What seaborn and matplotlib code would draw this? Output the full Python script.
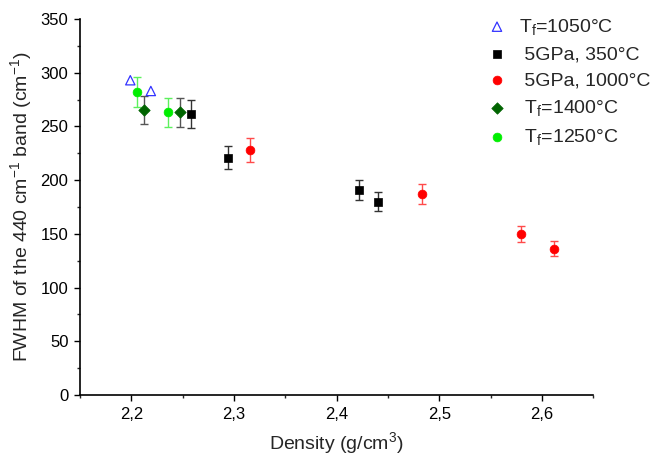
import matplotlib
matplotlib.use("Agg")
import matplotlib.pyplot as plt
import seaborn as sns
import numpy as np
import pandas as pd
from matplotlib.ticker import MultipleLocator, FixedLocator

# ---- data ----
tf1050_x = [2.199, 2.219]
tf1050_y = [293, 283]

gpa350_x = [2.258, 2.294, 2.422, 2.440]
gpa350_y = [262, 221, 191, 180]
gpa350_err = [13, 11, 9.5, 9]

gpa1000_x = [2.316, 2.483, 2.580, 2.612]
gpa1000_y = [228, 187, 150, 136]
gpa1000_err = [11.5, 9.5, 7.5, 7]

tf1400_x = [2.212, 2.247]
tf1400_y = [265, 263]
tf1400_err = [13, 13.5]

tf1250_x = [2.206, 2.236]
tf1250_y = [282, 263]
tf1250_err = [14, 13.5]

x_ticks = [2.2, 2.3, 2.4, 2.5, 2.6]
x_ticklabels = ["2,2", "2,3", "2,4", "2,5", "2,6"]
y_ticks = [0, 50, 100, 150, 200, 250, 300, 350]

labels = ["T$_\\mathregular{f}$=1050°C", " 5GPa, 350°C", " 5GPa, 1000°C",
          " T$_\\mathregular{f}$=1400°C", " T$_\\mathregular{f}$=1250°C"]

sns.set_style("ticks")
plt.rcParams['font.family'] = ['Liberation Sans', 'DejaVu Sans']
plt.rcParams['mathtext.fontset'] = 'custom'
plt.rcParams['mathtext.rm'] = 'Liberation Sans'
plt.rcParams['mathtext.it'] = 'Liberation Sans'

fig = plt.figure(figsize=(6.54, 4.58), dpi=100)
ax = fig.add_axes([80/654, 1-395/458, (593.3-80)/654, (395-19)/458])

# error bars
eb = dict(fmt='none', elinewidth=1.0, capsize=3, capthick=1.0, zorder=2)
ax.errorbar(gpa350_x, gpa350_y, yerr=gpa350_err, ecolor='#333333', **eb)
ax.errorbar(gpa1000_x, gpa1000_y, yerr=gpa1000_err, ecolor='#ff4a4a', **eb)
ax.errorbar(tf1400_x, tf1400_y, yerr=tf1400_err, ecolor='#555555', **eb)
ax.errorbar(tf1250_x, tf1250_y, yerr=tf1250_err, ecolor='#5cf05c', **eb)

sns.scatterplot(x=tf1050_x, y=tf1050_y, marker='^', s=45, facecolor='none',
                edgecolor='#3333ff', linewidth=0.9, ax=ax, zorder=3)
sns.scatterplot(x=gpa350_x, y=gpa350_y, marker='s', s=36, color='black',
                edgecolor='black', linewidth=0.5, ax=ax, zorder=3)
sns.scatterplot(x=gpa1000_x, y=gpa1000_y, marker='o', s=40, color='#ff0000',
                edgecolor='#ff0000', linewidth=0.5, ax=ax, zorder=3)
sns.scatterplot(x=tf1400_x, y=tf1400_y, marker='D', s=34, color='#006400',
                edgecolor='#006400', linewidth=0.5, ax=ax, zorder=3)
sns.scatterplot(x=tf1250_x, y=tf1250_y, marker='o', s=40, color='#00ee00',
                edgecolor='#00ee00', linewidth=0.5, ax=ax, zorder=4)

scat = [c for c in ax.collections if isinstance(c, matplotlib.collections.PathCollection)]
handles = scat[:5]

ax.set_xlim(2.15, 2.65)
ax.set_ylim(0, 350)
ax.xaxis.set_major_locator(FixedLocator(x_ticks))
ax.set_xticklabels(x_ticklabels)
ax.xaxis.set_minor_locator(MultipleLocator(0.05))
ax.yaxis.set_major_locator(FixedLocator(y_ticks))
ax.yaxis.set_minor_locator(MultipleLocator(25))
ax.tick_params(which='major', direction='out', length=4.3, width=1.0, labelsize=12,
               colors='black', pad=4)
ax.tick_params(which='minor', direction='out', length=2.4, width=1.0)
for s in ['top', 'right']:
    ax.spines[s].set_visible(False)
for s in ['left', 'bottom']:
    ax.spines[s].set_linewidth(1.2)
    ax.spines[s].set_color('black')

ax.set_xlabel("Density (g/cm$^{\\mathregular{3}}$)", fontsize=14, labelpad=6)
ax.set_ylabel("FWHM of the 440 cm$^{\\mathregular{-1}}$ band (cm$^{\\mathregular{-1}}$)",
              fontsize=14, labelpad=5)

fig.legend(handles, labels, loc='upper left', bbox_to_anchor=(479.5/654, 1-9/458),
           frameon=False, fontsize=14, labelspacing=0.45, handletextpad=0.63,
           handlelength=1.0, borderaxespad=0)

fig.savefig("out.png", dpi=100)
